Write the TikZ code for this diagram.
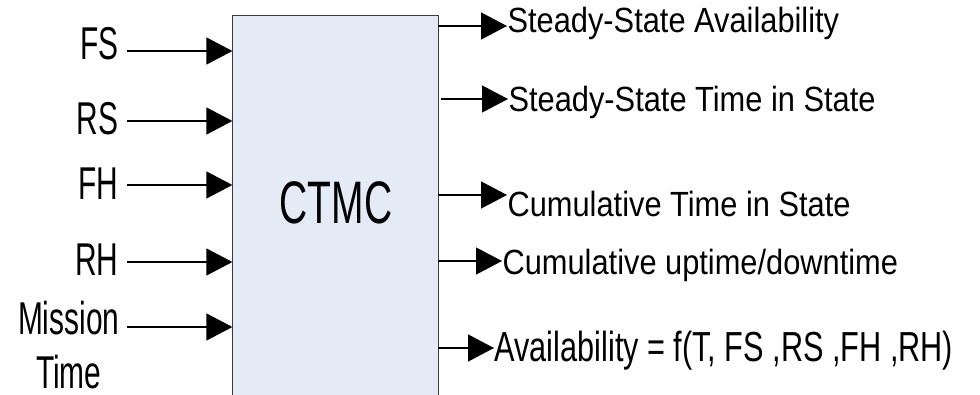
\documentclass[tikz,border=0pt]{standalone}
\usepackage{fontspec}
\setmainfont{Liberation Sans}
\newfontfamily\narrowsans{Liberation Sans}[FakeStretch=0.65]
\newfontfamily\outsans{Liberation Sans}[FakeStretch=0.88]
\newfontfamily\availsans{Liberation Sans}[FakeStretch=0.73]
\usetikzlibrary{arrows.meta}
\definecolor{ctmcfill}{HTML}{E4EBF6}
\definecolor{ctmcedge}{HTML}{3C3C3C}

\begin{document}
\begin{tikzpicture}[x=1pt,y=-1pt,line width=1.2pt,>={Triangle[length=26pt,width=27pt]}]
    \tikzset{
        inlabel/.style={
            anchor=base east,
            inner sep=0pt,
            font=\narrowsans\fontsize{46pt}{54pt}\selectfont
        },
        outlabel/.style={
            anchor=base west,
            inner sep=0pt,
            font=\outsans\fontsize{35pt}{42pt}\selectfont
        },
        ctmcbox/.style={
            fill=ctmcfill,
            minimum width=205pt,
            minimum height=400pt,
            inner sep=0pt
        }
    }
    \useasboundingbox (0,0) rectangle (980,395);

    \node[ctmcbox] (ctmc) at (335.5,216) {};
    \draw[ctmcedge] (ctmc.south west) -- (ctmc.north west) -- (ctmc.north east) -- (ctmc.south east);
    \node (ctmclabel) at (336,203) [font=\narrowsans\fontsize{60pt}{72pt}\selectfont]{CTMC};

    \coordinate (fsc) at (127,51);
    \coordinate (rsc) at (127,121);
    \coordinate (fhc) at (127,185);
    \coordinate (rhc) at (127,262);
    \coordinate (mtc) at (127,327);
    \node (fs) at ([xshift=-8pt,yshift=-9pt] fsc) [inlabel]{FS};
    \node (rs) at ([xshift=-8pt,yshift=-14pt] rsc) [inlabel]{RS};
    \node (fh) at ([xshift=-8pt,yshift=-15pt] fhc) [inlabel]{FH};
    \node (rh) at ([xshift=-8pt,yshift=-14pt] rhc) [inlabel]{RH};
    \node (mt) at ([xshift=-7pt,yshift=26pt] mtc) [inlabel,anchor=north east,align=center]{Mission\\Time};

    \draw[->] (fsc) -- (fsc -| ctmc.west);
    \draw[->] (rsc) -- (rsc -| ctmc.west);
    \draw[->] (fhc) -- (fhc -| ctmc.west);
    \draw[->] (rhc) -- (rhc -| ctmc.west);
    \draw[->] (mtc) -- (mtc -| ctmc.west);

    \coordinate (ssac) at (438,26);
    \coordinate (sstc) at (441,99);
    \coordinate (ctc) at (438,195);
    \coordinate (cudc) at (438,261);
    \coordinate (avc) at (438,348);
    \node (ssa) at ([xshift=69pt,yshift=-7pt] ssac) [outlabel]{Steady-State Availability};
    \node (sst) at ([xshift=67pt,yshift=-13pt] sstc) [outlabel]{Steady-State Time in State};
    \node (ct) at ([xshift=69pt,yshift=-22pt] ctc) [outlabel]{Cumulative Time in State};
    \node (cud) at ([xshift=64pt,yshift=-14pt] cudc) [outlabel]{Cumulative uptime/downtime};
    \node (av) at ([xshift=56pt,yshift=-14pt] avc) [outlabel,font=\availsans\fontsize{42pt}{50pt}\selectfont]{Availability = f(T, FS ,RS ,FH ,RH)};

    \draw[->] (ssac) -- (ssac -| ssa.west);
    \draw[->] (sstc) -- (sstc -| sst.west);
    \draw[->] (ctc) -- (ctc -| ct.west);
    \draw[->] (cudc) -- (cudc -| cud.west);
    \draw[->] (avc) -- (avc -| av.west);
\end{tikzpicture}
\end{document}
